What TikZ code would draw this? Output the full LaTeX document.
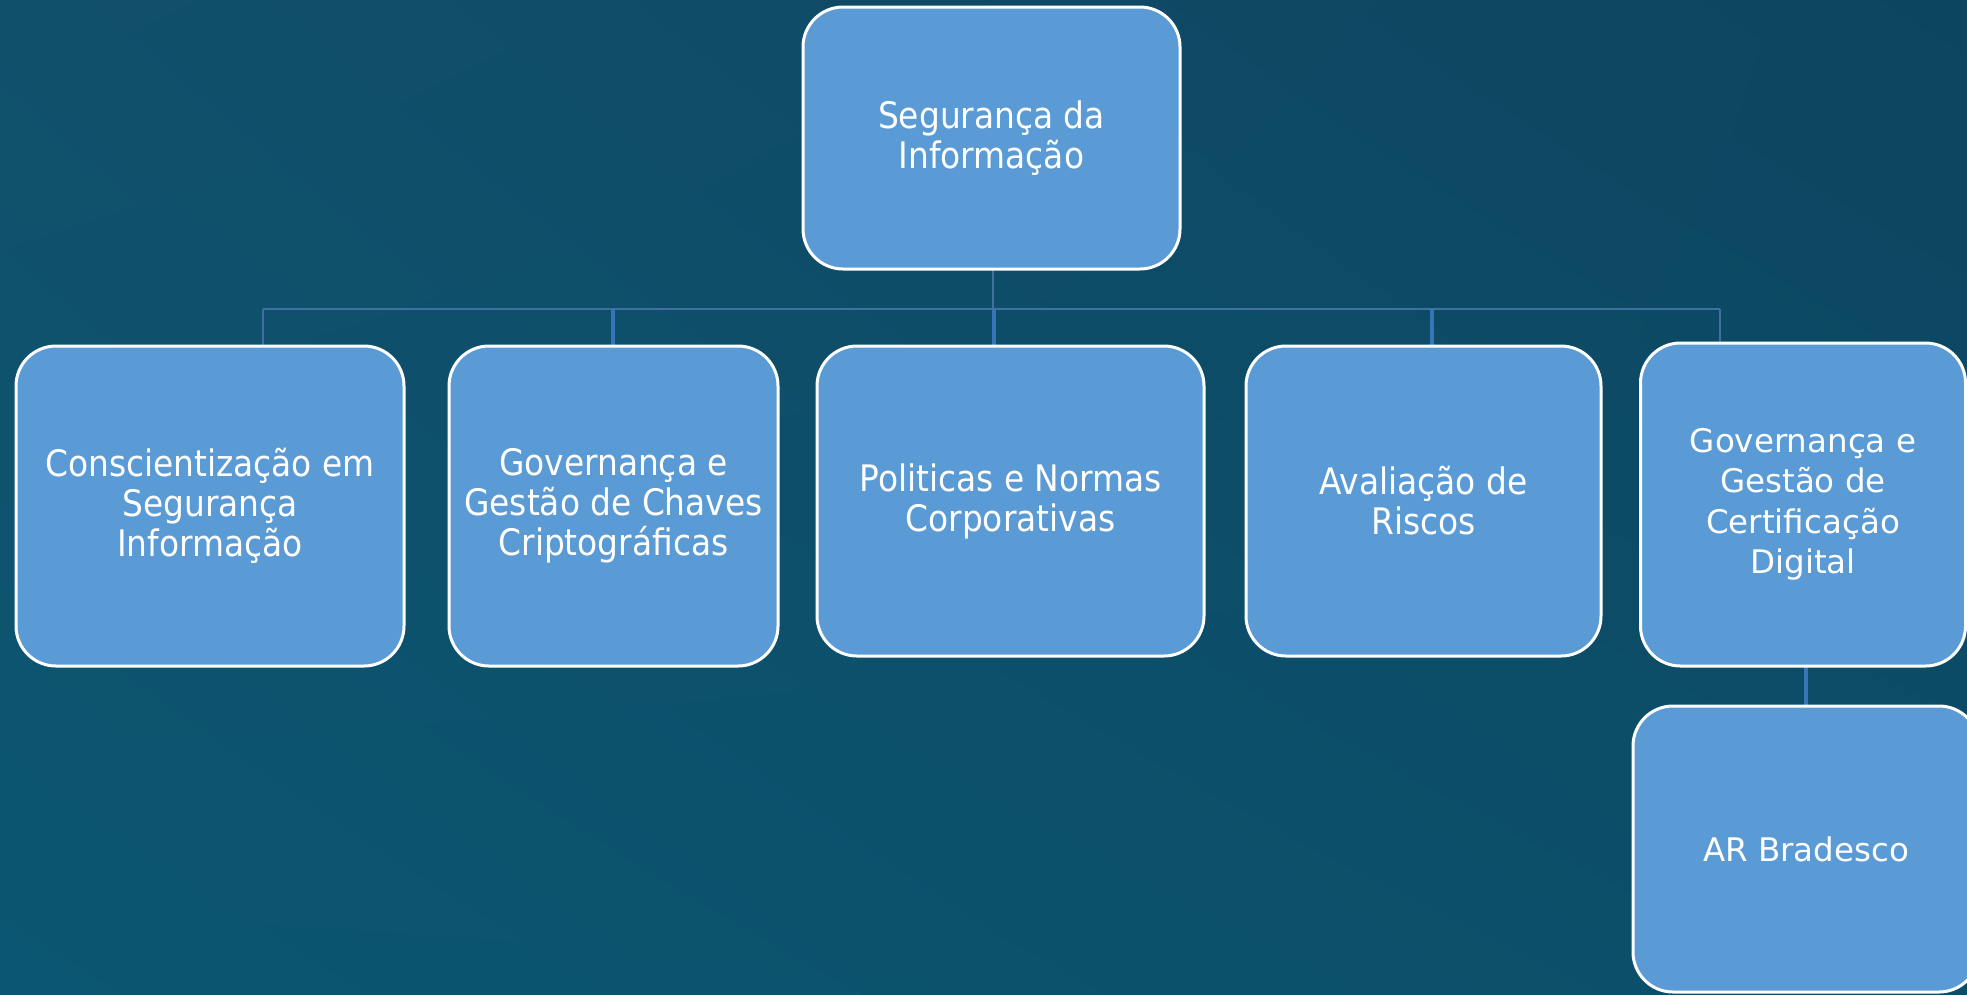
\documentclass[tikz,border=0pt]{standalone}
\usepackage{fontspec}
\setmainfont{DejaVu Sans}
\newfontfamily\tahoma{DejaVu Sans Condensed}
\usetikzlibrary{shadings,backgrounds}
\definecolor{bgLL}{HTML}{0B5672}
\definecolor{bgUL}{HTML}{11506B}
\definecolor{bgUR}{HTML}{0C4560}
\definecolor{bgLR}{HTML}{0C4E68}
\definecolor{boxfill}{HTML}{5B9BD5}
\definecolor{dimline}{HTML}{3F70A0}
\definecolor{brightline}{HTML}{3676B8}
\tikzset{
  box/.style={draw=white, line width=3pt, fill=boxfill, rectangle, rounded corners=40pt,
    inner sep=0pt, outer sep=0pt, align=center, text=white},
  tbox/.style={box, font=\tahoma\fontsize{36.5}{40}\selectfont},
  vbox/.style={box, font=\fontsize{32.5}{40.5}\selectfont},
  dim/.style={draw=dimline, line width=2.5pt},
  bright/.style={draw=brightline, line width=3.5pt},
}
\begin{document}
\begin{tikzpicture}[x=1pt,y=-1pt]
\useasboundingbox (0,0) rectangle (1967,994);
% bus coordinates
\coordinate (hub) at (993,309);
\coordinate (d1) at (263,309);
\coordinate (d2) at (613,309);
\coordinate (d3) at (994,309);
\coordinate (d4) at (1432,309);
\coordinate (d5) at (1720,309);
\coordinate (d6) at (1806,0);
% boxes
\node[tbox, minimum width=377pt, minimum height=262pt] (top) at (991.5,138) {Segurança da\\Informação};
\node[tbox, minimum width=388pt, minimum height=320pt] (b1) at (210,506) {Conscientização em\\Segurança\\Informação};
\node[tbox, minimum width=329pt, minimum height=320pt] (b2) at (613.5,506) {Governança e\\Gestão de Chaves\\Criptográficas};
\node[tbox, minimum width=387pt, minimum height=310pt] (b3) at (1010.5,501) {Politicas e Normas\\Corporativas};
\node[tbox, minimum width=355pt, minimum height=310pt] (b4) at (1423.5,501) {Avaliação de\\Riscos};
\node[vbox, minimum width=325pt, minimum height=323pt] (b5) at (1803,504.5) {Governança e\\Gestão de\\Certificação\\Digital};
\node[vbox, minimum width=346pt, minimum height=286pt] (b6) at (1806,849) {AR Bradesco};
% background and connectors
\begin{pgfonlayer}{background}
\shade[lower left=bgLL, upper left=bgUL, upper right=bgUR, lower right=bgLR] (0,0) rectangle (1967,994);
\draw[dim] (d1) -- (d5);
\draw[dim] (top.south -| hub) -- (hub);
\draw[dim] (d1) -- (d1 |- b1.north);
\draw[dim] (d5) -- (d5 |- b5.north);
\draw[bright] (d2) -- (d2 |- b2.north);
\draw[bright] (d3) -- (d3 |- b3.north);
\draw[bright] (d4) -- (d4 |- b4.north);
\draw[bright] (b5.south -| d6) -- (b6.north -| d6);
\end{pgfonlayer}
\end{tikzpicture}
\end{document}
